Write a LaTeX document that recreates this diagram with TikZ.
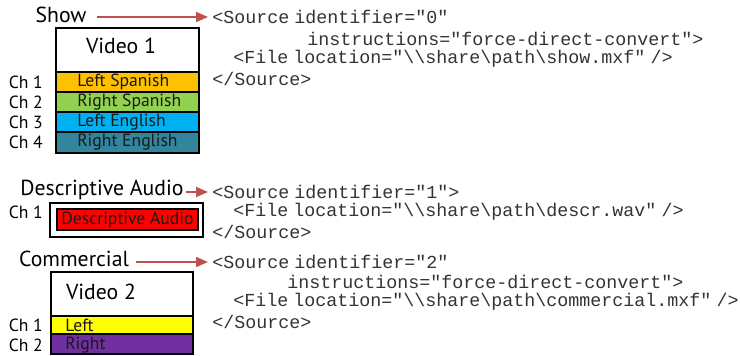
\documentclass[tikz,border=0pt]{standalone}
\usepackage{fontspec}
\setmainfont{PT Sans}
\setmonofont{Liberation Mono}
\usetikzlibrary{arrows.meta}
\definecolor{arrowred}{HTML}{C0504D}
\definecolor{chOrange}{HTML}{FFC000}
\definecolor{chGreen}{HTML}{92D050}
\definecolor{chBlue}{HTML}{00B0F0}
\definecolor{chTeal}{HTML}{31859C}
\definecolor{chRed}{HTML}{FF0000}
\definecolor{chYellow}{HTML}{FFFF00}
\definecolor{chPurple}{HTML}{7030A0}
\definecolor{codegray}{HTML}{333333}
\newcommand{\bsl}{\textbackslash}
\newcommand{\nsp}{\hspace{0.28em}}
\begin{document}
\begin{tikzpicture}[x=0.75pt,y=-0.75pt,
  lbl/.style={font=\fontsize{16.3}{19}\selectfont, inner sep=0pt},
  chlbl/.style={font=\fontsize{13.2}{16}\selectfont, inner sep=0pt, anchor=east},
  rowtxt/.style={font=\fontsize{13.2}{16}\selectfont, inner sep=0pt, anchor=west, text=black!90},
  code/.style={font=\ttfamily\fontsize{13.75}{16}\selectfont, text=codegray, inner sep=0pt, anchor=west},
  frame/.style={draw=black, line width=1.3pt},
  arr/.style={draw=arrowred, line width=1.2pt, -{Triangle[length=9pt,width=7.5pt]}, shorten >=3pt}
]
\useasboundingbox (0,0) rectangle (740,356);

% ---------- Show ----------
\node[lbl] (show) at (61,15) {Show};
\fill[white] (56,28) rectangle (199,72);
\draw[frame, fill=chOrange] (56,72) rectangle (199,92);
\draw[frame, fill=chGreen]  (56,92) rectangle (199,112);
\draw[frame, fill=chBlue]   (56,112) rectangle (199,132);
\draw[frame, fill=chTeal]   (56,132) rectangle (199,153);
\draw[frame] (56,28) rectangle (199,153);
\node[lbl] (v1) at (121,46) {Video 1};
\node[rowtxt] (r1) at (77,82) {Left Spanish};
\node[rowtxt] (r2) at (77,102) {Right Spanish};
\node[rowtxt] (r3) at (77,122) {Left English};
\node[rowtxt] (r4) at (77,142) {Right English};
\node[chlbl] (c1) at (43,82) {Ch 1};
\node[chlbl] (c2) at (43,102) {Ch 2};
\node[chlbl] (c3) at (43,122) {Ch 3};
\node[chlbl] (c4) at (43,142) {Ch 4};

\node[code] (src0) at (212,17) {<Source\nsp identifier="0"};
\node[code] (ins0) at (307,39) {instructions="force-direct-convert">};
\node[code] (file0) at (233,59) {<File\nsp location="\bsl\bsl share\bsl path\bsl show.mxf"\nsp/>};
\node[code] (end0) at (212,79) {</Source>};

\coordinate (a0) at ([xshift=8pt]show.east);
\draw[arr] (a0 |- src0.west) -- (src0.west);

% ---------- Descriptive Audio ----------
\node[lbl] (desc) at (102,190) {Descriptive Audio};
\draw[frame, line width=1pt] (50,203) rectangle (203,237);
\draw[frame, line width=1pt, fill=chRed] (57,209) rectangle (198,230);
\node[rowtxt, anchor=center] (dtxt) at (127.5,220) {Descriptive Audio};
\node[chlbl] (dc1) at (43,212) {Ch 1};

\node[code] (src1) at (212,192) {<Source\nsp identifier="1">};
\node[code] (file1) at (233,212) {<File\nsp location="\bsl\bsl share\bsl path\bsl descr.wav"\nsp/>};
\node[code] (end1) at (212,232) {</Source>};

\coordinate (a1) at ([xshift=2pt]desc.east);
\draw[arr] (a1 |- src1.west) -- (src1.west);

% ---------- Commercial ----------
\node[lbl] (comm) at (74,259) {Commercial};
\fill[white] (51,272) rectangle (193,316);
\draw[frame, fill=chYellow] (51,316) rectangle (193,334);
\draw[frame, fill=chPurple] (51,334) rectangle (193,354);
\draw[frame] (51,272) rectangle (193,354);
\node[lbl] (v2) at (101,292) {Video 2};
\node[rowtxt] (l2) at (65,325) {Left};
\node[rowtxt] (rr2) at (65,345) {Right};
\node[chlbl] (cc1) at (43,325) {Ch 1};
\node[chlbl] (cc2) at (43,345) {Ch 2};

\node[code] (src2) at (212,262) {<Source\nsp identifier="2"};
\node[code] (ins2) at (287,282) {instructions="force-direct-convert">};
\node[code] (file2) at (233,302) {<File\nsp location="\bsl\bsl share\bsl path\bsl commercial.mxf"\nsp/>};
\node[code] (end2) at (212,322) {</Source>};

\coordinate (a2) at ([xshift=5pt]comm.east);
\draw[arr] (a2 |- src2.west) -- (src2.west);
\end{tikzpicture}
\end{document}
